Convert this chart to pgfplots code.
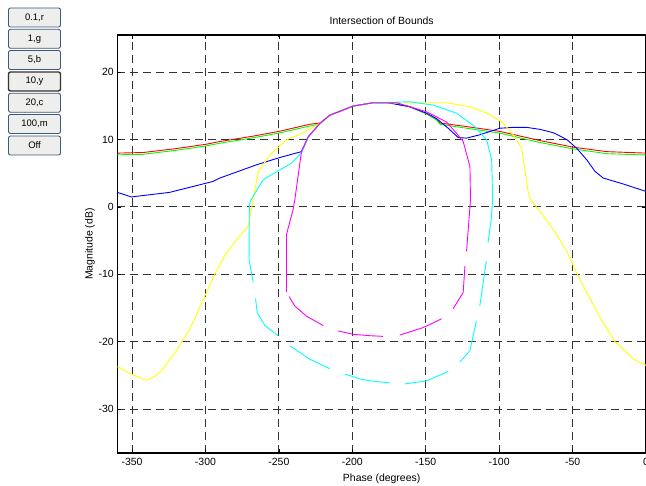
\documentclass[border=0pt]{standalone}
\usepackage{fontspec}
\setmainfont{Liberation Sans}
\usepackage{pgfplots}
\pgfplotsset{compat=1.18}
\definecolor{btnborder}{RGB}{60,90,125}
\definecolor{btnfill}{RGB}{238,238,236}
\definecolor{cR}{RGB}{255,0,0}
\definecolor{cG}{RGB}{0,255,0}
\definecolor{cB}{RGB}{0,0,255}
\definecolor{cY}{RGB}{255,255,0}
\definecolor{cC}{RGB}{0,255,255}
\definecolor{cM}{RGB}{255,0,255}
\begin{document}
\begin{tikzpicture}[x=1bp,y=1bp]
\useasboundingbox (0,0) rectangle (646,486);
% buttons
\tikzset{btn/.style={draw=btnborder, line width=0.9bp, fill=btnfill, rounded corners=2bp, minimum width=52bp, minimum height=19bp, inner sep=0pt, font=\fontsize{9.5}{10}\selectfont}}
\node[btn] at (34.5,468.5) {0.1,r};
\node[btn] at (34.5,447.2) {1,g};
\node[btn] at (34.5,426) {5,b};
\node[btn, line width=1.4bp, draw=black!80] at (34.5,404.5) {10,y};
\node[btn] at (34.5,383.2) {20,c};
\node[btn] at (34.5,362) {100,m};
\node[btn] at (34.5,340.5) {Off};
\begin{axis}[
  at={(117.3bp,33bp)}, anchor=south west,
  width=528.7bp, height=418bp, scale only axis,
  xmin=-360, xmax=0, ymin=-36.5, ymax=25.5,
  xtick={-350,-300,-250,-200,-150,-100,-50,0},
  xticklabels={-350,-300,-250,-200,-150,-100,-50,0},
  ytick={-30,-20,-10,0,10,20},
  yticklabels={-30,-20,-10,0,10,20},
  tick align=inside, major tick length=4bp,
  tick style={black, line width=0.6bp},
  axis line style={black, line width=1.1bp},
  grid=major,
  major grid style={black!80, line width=0.9bp, dash pattern=on 8bp off 5bp},
  ticklabel style={font=\fontsize{10.5}{12}\selectfont},
  xticklabel style={yshift=-1.5bp},
  title={Intersection of Bounds},
  title style={font=\fontsize{10.5}{12}\selectfont, yshift=1bp},
  xlabel={Phase (degrees)},
  ylabel={Magnitude (dB)},
  label style={font=\fontsize{10.5}{12}\selectfont},
  xlabel style={yshift=-2bp},
  ylabel style={yshift=-3bp},
  unbounded coords=jump,
  every axis plot/.append style={line width=0.9bp, line join=round},
]
% red (0.1)
\addplot[color=cR] table {
-360 7.98
-342.4 8.07
-320 8.65
-299.3 9.3
-290.2 9.7
-267.5 10.5
-250 11.2
-228.9 12.26
-222 12.45
-215.3 13.6
-199.4 14.96
-185.8 15.45
-174.4 15.45
-160.8 14.86
-149.4 13.8
-142.6 13.0
-140.3 12.45
-120 11.85
-99.5 11.2
-72.2 9.84
-49.5 8.86
-26.8 8.2
0 7.98
};
% green (1)
\addplot[color=cG] table {
-360 7.73
-342.4 7.8
-320 8.4
-299.3 9.05
-290.2 9.45
-267.5 10.25
-250 10.95
-228.9 12.0
-222 12.3
-215.3 13.6
-199.4 14.96
-185.8 15.45
-174.4 15.45
-160.8 14.86
-149.4 13.8
-142.6 12.9
-140.3 12.25
-120 11.6
-99.5 10.95
-72.2 9.55
-49.5 8.6
-26.8 7.9
0 7.7
};
% blue (5)
\addplot[color=cB] table {
-360 2.16
-350.4 1.48
-324.3 2.16
-294.8 3.78
-290.2 4.28
-265.2 6.25
-249.3 7.33
-234.6 8.2
-230 10.4
-222 12.4
-215.3 13.6
-199.4 14.96
-185.8 15.45
-174.4 15.4
-160.8 14.86
-149.4 13.9
-142.6 13.1
-134.7 11.67
-127.9 10.3
-122.2 10.2
-113.1 10.7
-99.5 11.67
-90.4 11.8
-81.3 11.8
-72.2 11.5
-63.1 11.0
-54 10.0
-47.2 8.7
-40.4 7.0
-34.7 5.26
-29.1 4.28
-15.5 3.4
0 2.3
};
% yellow (10)
\addplot[color=cY] table {
-360 -23.7
-350.4 -24.8
-340.2 -25.7
-335.6 -25.3
-329.9 -24.3
-319.7 -21.3
-310.6 -18.1
-299.3 -12.7
-292.5 -9.5
-285.7 -6.8
-276.6 -4.3
-270.9 -2.9
-268.4 0
-266.3 2.56
-264 5.26
-256.1 7.7
-244.8 9.94
-233.4 11.0
-222 12.4
-215.3 13.6
-199.4 14.96
-185.8 15.45
-169.8 15.4
-151.7 15.45
-135.8 15.45
-119.9 14.86
-108.5 13.9
-98 12.6
-90.4 10.7
-84.7 8.7
-80.2 2.2
-79 1.18
-72.2 -0.65
-63.1 -3.35
-54 -6.56
-48.4 -9.26
-40.4 -12.7
-31.3 -16.4
-21.1 -20
-8.7 -22.55
0 -23.5
};
% cyan (20)
\addplot[color=cC] table {
-267.5 -11.2
-270.3 -7.8
-270.1 0
-269.6 0.8
-267.5 1.57
-260.7 4.03
-249.3 5.5
-241.4 6.5
-234.6 7.98
-230 10.3
-222 12.4
-215.3 13.6
-199.4 14.96
-185.8 15.45
-174.4 15.5
-160.8 15.6
-144.9 15.1
-129 13.9
-116.5 11.9
-108.5 9.94
-105.1 7.0
-104.4 1.1
-105.5 -2
-107.6 -5.3
nan nan
-108.7 -8.0
-113.2 -14.7
nan nan
-115.5 -16.9
-119.9 -21.3
-126.7 -23.0
nan nan
-134.7 -24.4
-149.4 -25.8
-164.2 -26.25
nan nan
-174.4 -26.1
-188 -25.8
-194.8 -25.5
-205 -24.8
nan nan
-215.3 -24.0
-228.9 -22.6
-242.5 -20.6
nan nan
-250.5 -19.1
-259.5 -17.6
-264.7 -15.7
-265.9 -13.6
};
% magenta (100)
\addplot[color=cM] table {
-244.8 -12.6
-244.8 -4.1
-240.3 -0.4
-239.1 1.1
-234.6 8.2
-230 10.4
-222 12.4
-215.3 13.6
-199.4 14.96
-185.8 15.45
-169.8 15.45
-149.4 14.1
-135.8 12.6
-129 10.9
-124.5 9.7
-119.9 6.0
-119.5 1.1
-122.2 -6.6
nan nan
-123.3 -8.8
-124.5 -12.7
-131.3 -15.1
nan nan
-139.2 -16.6
-151.7 -17.9
-167.6 -19.0
nan nan
-179 -19.2
-188 -19.1
-199.4 -18.9
-209.6 -18.4
nan nan
-219.8 -17.6
-231.2 -16.2
-239.1 -14.7
-243 -13.3
};
\end{axis}
\end{tikzpicture}
\end{document}
